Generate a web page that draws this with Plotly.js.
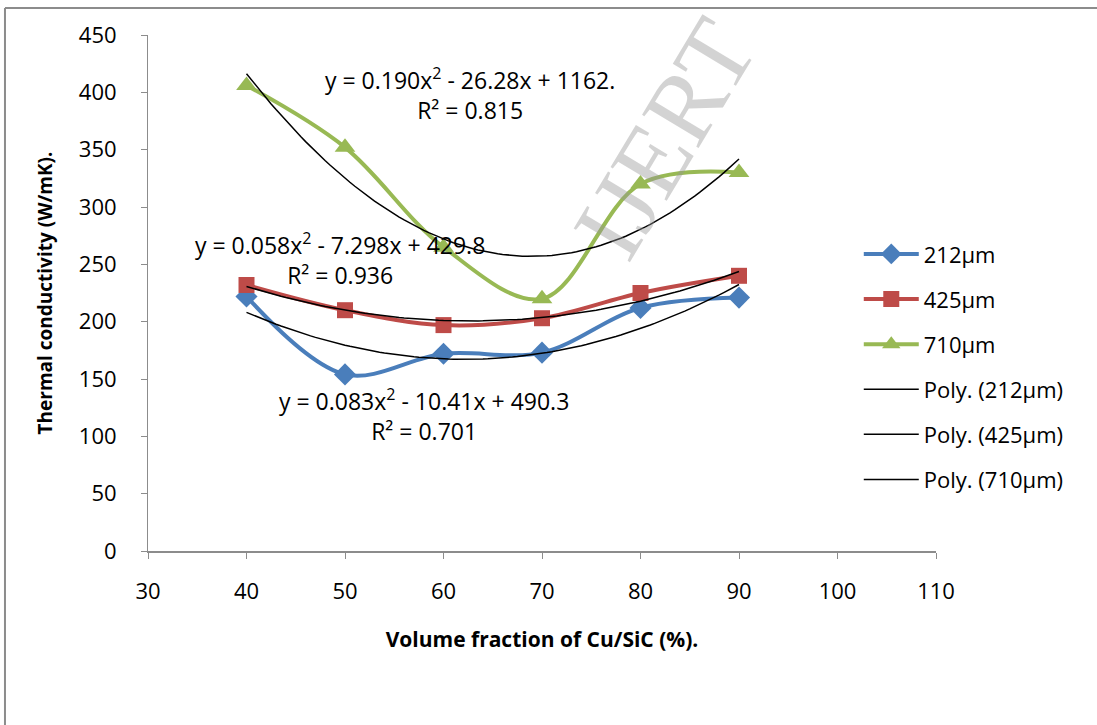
<!DOCTYPE html>
<html>
<head>
<meta charset="utf-8">
<script src="https://cdn.plot.ly/plotly-3.0.1.min.js"></script>
<style>html,body{margin:0;padding:0;background:#fff;}#chart{width:1097px;height:725px;}</style>
</head>
<body>
<div id="chart"></div>
<script>
// ---- data ----
var volumeFraction = [40, 50, 60, 70, 80, 90];
var size212 = [222, 154, 172, 173, 212, 221];
var size425 = [232, 210, 197, 203, 225, 240];
var size710 = [406, 352, 265, 220, 320, 330];
var seriesNames = ['212µm', '425µm', '710µm'];
var xTicks = [30, 40, 50, 60, 70, 80, 90, 100, 110];
var yTicks = [0, 50, 100, 150, 200, 250, 300, 350, 400, 450];
var eq212 = 'y = 0.083x<sup>2</sup> - 10.41x + 490.3<br>R² = 0.701';
var eq425 = 'y = 0.058x<sup>2</sup> - 7.298x + 429.8<br>R² = 0.936';
var eq710 = 'y = 0.190x<sup>2</sup> - 26.28x + 1162.<br>R² = 0.815';

// least-squares quadratic trendline (as the spreadsheet's "Poly." trendline)
function polyFit(xs, ys) {
  var n = xs.length, s = [0,0,0,0,0], t = [0,0,0];
  for (var i = 0; i < n; i++) {
    var p = 1;
    for (var k = 0; k < 5; k++) { s[k] += p; if (k < 3) t[k] += p * ys[i]; p *= xs[i]; }
  }
  var A = [[s[0], s[1], s[2], t[0]], [s[1], s[2], s[3], t[1]], [s[2], s[3], s[4], t[2]]];
  for (var c = 0; c < 3; c++) {
    for (var r = c + 1; r < 3; r++) {
      var f = A[r][c] / A[c][c];
      for (var j = c; j < 4; j++) A[r][j] -= f * A[c][j];
    }
  }
  var coef = [0,0,0];
  for (var r2 = 2; r2 >= 0; r2--) {
    var v = A[r2][3];
    for (var j2 = r2 + 1; j2 < 3; j2++) v -= A[r2][j2] * coef[j2];
    coef[r2] = v / A[r2][r2];
  }
  return coef;
}
function trend(xs, ys) {
  var c = polyFit(xs, ys), xmin = Math.min.apply(null, xs), xmax = Math.max.apply(null, xs);
  var tx = [], ty = [];
  for (var i = 0; i <= 100; i++) {
    var x = xmin + (xmax - xmin) * i / 100;
    tx.push(x); ty.push(c[0] + c[1] * x + c[2] * x * x);
  }
  return {x: tx, y: ty};
}

var colors = ['#4A7EBB', '#BE4B48', '#98B954'];
var symbols = ['diamond', 'square', 'triangle-up'];
var msizes = [17, 16, 18];
var allY = [size212, size425, size710];
var traces = [];
for (var s = 0; s < 3; s++) {
  traces.push({
    x: volumeFraction, y: allY[s], name: seriesNames[s], legendgroup: 'g' + s,
    type: 'scatter', mode: 'lines+markers',
    line: {color: colors[s], width: 4, shape: 'spline', smoothing: 1},
    marker: {color: colors[s], symbol: symbols[s], size: msizes[s]}
  });
}
for (var s2 = 0; s2 < 3; s2++) {
  var tr = trend(volumeFraction, allY[s2]);
  traces.push({
    x: tr.x, y: tr.y, name: 'Poly. (' + seriesNames[s2] + ')', legendgroup: 'p' + s2,
    type: 'scatter', mode: 'lines', line: {color: '#000000', width: 1.5}
  });
}

var F = 'Open Sans, Liberation Sans, sans-serif';
var layout = {
  width: 1097, height: 725,
  margin: {l: 148, r: 161, t: 35, b: 174},
  paper_bgcolor: '#ffffff', plot_bgcolor: '#ffffff',
  font: {family: F, color: '#000000'},
  showlegend: true,
  legend: {x: 0.902, y: 0.616, xanchor: 'left', yanchor: 'top', font: {family: F, size: 22, color: '#000'},
           tracegroupgap: 13.5, itemwidth: 55, bgcolor: 'rgba(0,0,0,0)'},
  xaxis: {
    range: [30, 110], tickvals: xTicks, ticktext: xTicks.map(String),
    showgrid: false, zeroline: false, showline: true, linecolor: '#8c8c8c', linewidth: 2,
    ticks: 'outside', ticklen: 6, tickcolor: '#8c8c8c', tickwidth: 1, ticklabelstandoff: 14,
    tickfont: {family: F, size: 22, color: '#000'},
    title: {text: '<b>Volume fraction of Cu/SiC (%).</b>', font: {family: F, size: 21, color: '#000'}, standoff: 28}
  },
  yaxis: {
    range: [0, 450], tickvals: yTicks, ticktext: yTicks.map(String),
    showgrid: false, zeroline: false, showline: true, linecolor: '#8c8c8c', linewidth: 1,
    ticks: 'outside', ticklen: 6, tickcolor: '#8c8c8c', tickwidth: 1, ticklabelstandoff: 20,
    tickfont: {family: F, size: 22, color: '#000'},
    title: {text: '<b>Thermal conductivity (W/mK).</b>', font: {family: F, size: 19, color: '#000'}, standoff: 21}
  },
  annotations: [
    {text: eq710, xref: 'paper', yref: 'paper', x: 0.4086, y: 0.8857, xanchor: 'center', yanchor: 'middle',
     showarrow: false, font: {family: F, size: 23, color: '#000'}, align: 'center'},
    {text: eq425, xref: 'paper', yref: 'paper', x: 0.2437, y: 0.566, xanchor: 'center', yanchor: 'middle',
     showarrow: false, font: {family: F, size: 23, color: '#000'}, align: 'center'},
    {text: eq212, xref: 'paper', yref: 'paper', x: 0.350, y: 0.2636, xanchor: 'center', yanchor: 'middle',
     showarrow: false, font: {family: F, size: 23, color: '#000'}, align: 'center'},
    {text: 'IJERT', xref: 'paper', yref: 'paper', x: 0.656, y: 0.80, xanchor: 'center', yanchor: 'middle',
     showarrow: false, textangle: -59,
     font: {family: 'Liberation Serif, serif', size: 100, color: 'rgba(150,150,150,0.42)'}}
  ],
  shapes: [
    {type: 'line', xref: 'paper', yref: 'paper', x0: -0.1815, x1: 1.21, y0: 1.0523, y1: 1.0523,
     line: {color: '#8c8c8c', width: 2}},
    {type: 'line', xref: 'paper', yref: 'paper', x0: -0.1815, x1: -0.1815, y0: 1.0523, y1: -0.34,
     line: {color: '#8c8c8c', width: 2}}
  ]
};
Plotly.newPlot('chart', traces, layout, {displayModeBar: false, staticPlot: true});
</script>
</body>
</html>
